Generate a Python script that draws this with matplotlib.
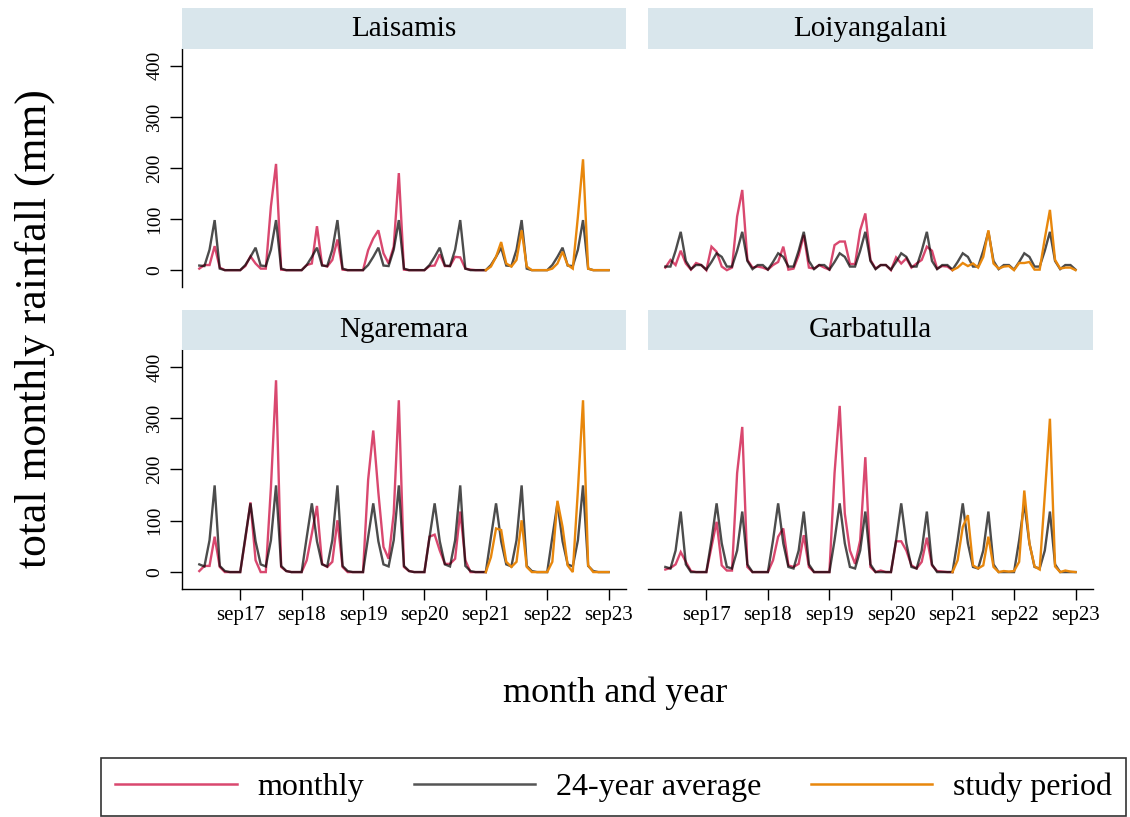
import numpy as np
import pandas as pd
import matplotlib
matplotlib.use("Agg")
import matplotlib.pyplot as plt

plt.rcParams["font.family"] = ["Liberation Serif", "DejaVu Serif"]

# Monthly series, Jan 2017 - Sep 2023
months = pd.date_range("2017-01-01", "2023-09-01", freq="MS")
study_start = pd.Timestamp("2021-09-01")

stations = ["Laisamis", "Loiyangalani", "Ngaremara", "Garbatulla"]

# total monthly rainfall (mm)
rain_laisamis = [3, 10, 10, 47, 5, 0, 0, 0, 0, 8, 27, 13,
                 3, 3, 125, 208, 1, 0, 0, 0, 0, 10, 13, 86,
                 10, 7, 20, 60, 1, 0, 0, 0, 0, 39, 62, 78,
                 33, 13, 46, 190, 1, 0, 0, 0, 0, 8, 9, 31,
                 8, 8, 26, 25, 3, 1, 0, 0, 0, 7, 26, 55,
                 13, 7, 20, 78, 7, 0, 0, 0, 0, 3, 13, 36,
                 10, 3, 105, 217, 3, 0, 0, 0, 0]
rain_loiyangalani = [5, 20, 10, 38, 13, 1, 14, 10, 0, 46, 36, 7,
                     0, 5, 105, 157, 20, 5, 7, 5, 1, 10, 16, 46,
                     1, 3, 29, 69, 5, 3, 10, 5, 1, 49, 56, 56,
                     12, 12, 78, 111, 20, 3, 10, 10, 0, 25, 13, 23,
                     5, 13, 20, 46, 38, 3, 8, 7, 0, 5, 14, 8,
                     13, 5, 26, 78, 13, 3, 7, 8, 0, 14, 14, 16,
                     1, 1, 62, 118, 20, 3, 5, 5, 0]
rain_ngaremara = [2, 12, 12, 69, 10, 0, 0, 0, 0, 65, 136, 23,
                  0, 0, 165, 374, 10, 2, 0, 0, 0, 23, 75, 129,
                  16, 10, 20, 101, 10, 0, 0, 0, 0, 180, 276, 155,
                  49, 26, 114, 335, 10, 2, 0, 0, 0, 69, 73, 42,
                  16, 16, 26, 118, 23, 0, 0, 0, 0, 29, 85, 82,
                  20, 10, 20, 101, 10, 0, 0, 0, 0, 20, 139, 88,
                  13, 0, 160, 335, 13, 0, 0, 0, 0]
rain_garbatulla = [5, 8, 15, 39, 20, 2, 0, 0, 0, 49, 98, 13,
                   3, 3, 193, 283, 10, 0, 0, 0, 0, 23, 69, 85,
                   13, 10, 16, 72, 10, 0, 0, 0, 0, 193, 324, 114,
                   42, 16, 62, 224, 10, 0, 3, 0, 0, 60, 60, 42,
                   13, 7, 20, 67, 13, 2, 1, 0, 0, 23, 88, 111,
                   13, 7, 13, 69, 10, 0, 2, 1, 2, 20, 159, 56,
                   11, 5, 150, 299, 11, 0, 3, 1, 0]

# 24-year average rainfall for each calendar month (Jan..Dec)
avg_laisamis = [9, 8, 40, 98, 3, 0, 0, 0, 0, 10, 26, 44]
avg_loiyangalani = [7, 7, 38, 75, 18, 2, 10, 10, 1, 16, 33, 26]
avg_ngaremara = [15, 11, 62, 169, 12, 2, 0, 0, 0, 68, 134, 60]
avg_garbatulla = [10, 7, 42, 118, 15, 0, 0, 0, 0, 62, 134, 56]

monthly = [rain_laisamis, rain_loiyangalani, rain_ngaremara, rain_garbatulla]
averages = [avg_laisamis, avg_loiyangalani, avg_ngaremara, avg_garbatulla]

tick_dates = pd.to_datetime(["2017-09-01", "2018-09-01", "2019-09-01", "2020-09-01",
                             "2021-09-01", "2022-09-01", "2023-09-01"])
tick_labels = ["sep17", "sep18", "sep19", "sep20", "sep21", "sep22", "sep23"]
y_ticks = [0, 100, 200, 300, 400]

RED = "#d9486f"
GRAY = "black"
ORANGE = "#e8870c"
STRIP = "#d9e6ec"

W, H = 1130, 817
fig = plt.figure(figsize=(W / 100, H / 100), dpi=100)


def fx(px):
    return px / W


def fy(py):
    return 1 - py / H


x = np.arange(len(months))
k = int(np.where(months == study_start)[0][0])
tick_pos = months.get_indexer(tick_dates)

panel_x = [(182, 626), (648, 1093)]
panel_y = [(49, 287), (350, 589)]
strip_y = [(8.3, 49), (309.5, 350)]

handles = None
for n, name in enumerate(stations):
    r, c = divmod(n, 2)
    x0, x1 = panel_x[c]
    y0, y1 = panel_y[r]
    ax = fig.add_axes([fx(x0), fy(y1), fx(x1 - x0), (y1 - y0) / H])
    vals = np.asarray(monthly[n], dtype=float)
    clim = np.asarray(averages[n], dtype=float)[months.month - 1]

    l1, = ax.plot(x[:k + 1], vals[:k + 1], color=RED, lw=1.7, zorder=2,
                  solid_joinstyle="miter")
    l2, = ax.plot(x, clim, color=GRAY, alpha=0.7, lw=1.7, zorder=3,
                  solid_joinstyle="miter")
    l3, = ax.plot(x[k:], vals[k:], color=ORANGE, lw=1.7, zorder=4,
                  solid_joinstyle="miter")
    handles = [l1, l2, l3]

    ax.set_xlim(-3.38, 83.4)
    ax.set_ylim(-33, 433)
    for s in ax.spines.values():
        s.set_visible(False)
        s.set_linewidth(1.0)
    if c == 0:
        ax.spines["left"].set_visible(True)
        ax.set_yticks(y_ticks)
        ax.set_yticklabels([str(v) for v in y_ticks], fontsize=14,
                           rotation=90, va="center")
        ax.tick_params(axis="y", length=8.5, width=1.0, pad=5)
    else:
        ax.set_yticks([])
    if r == 1:
        ax.spines["bottom"].set_visible(True)
        ax.set_xticks(tick_pos)
        ax.set_xticklabels(tick_labels, fontsize=15)
        ax.tick_params(axis="x", length=8, width=1.0, pad=4)
    else:
        ax.set_xticks([])
    ax.set_facecolor("none")

    sy0, sy1 = strip_y[r]
    sax = fig.add_axes([fx(x0), fy(sy1), fx(x1 - x0), (sy1 - sy0) / H])
    sax.set_facecolor(STRIP)
    sax.set_xticks([])
    sax.set_yticks([])
    for s in sax.spines.values():
        s.set_visible(False)
    sax.text(0.5, 0.5, name, ha="center", va="center", fontsize=21,
             transform=sax.transAxes)

fig.text(fx(35), fy(329), "total monthly rainfall (mm)", rotation=90,
         ha="center", va="center", fontsize=31.5)
fig.text(fx(615), fy(693), "month and year", ha="center", va="center",
         fontsize=26)

leg = fig.legend(handles, ["monthly", "24-year average", "study period"],
                 loc="center", bbox_to_anchor=(fx(613.5), fy(787)), ncol=3,
                 fontsize=23, frameon=True, fancybox=False,
                 handlelength=3.8, handletextpad=0.65, columnspacing=1.55,
                 borderpad=0.45, borderaxespad=0)
leg.get_frame().set_edgecolor("black")
leg.get_frame().set_linewidth(1.2)
for h in leg.legend_handles:
    h.set_alpha(1.0)
    h.set_linewidth(1.8)
leg.legend_handles[1].set_color("#555555")

fig.savefig("out.png", dpi=100, facecolor="white")
